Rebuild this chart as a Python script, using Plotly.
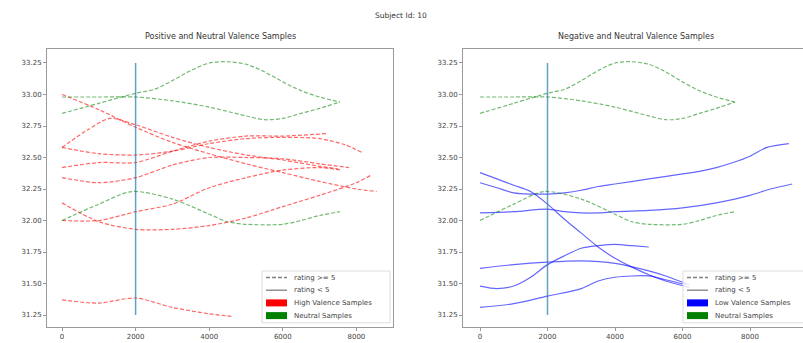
import plotly.graph_objects as go

# ---- data -----------------------------------------------------------------
suptitle = "Subject Id: 10"
left_title = "Positive and Neutral Valence Samples"
right_title = "Negative and Neutral Valence Samples"

stim_onset = 2000
onset_span = [31.25, 33.25]

y_ticks = [31.25, 31.50, 31.75, 32.00, 32.25, 32.50, 32.75, 33.00, 33.25]
x_ticks = [0, 2000, 4000, 6000, 8000]

legend_left = ["rating >= 5", "rating < 5", "High Valence Samples", "Neutral Samples"]
legend_right = ["rating >= 5", "rating < 5", "Low Valence Samples", "Neutral Samples"]

# neutral samples (shared by both panels), rating >= 5
neutral_a_t = [0, 1000, 2000, 2500, 3000, 3500, 4000, 4500, 5000, 5500, 6000, 6500, 7000, 7550]
neutral_a_v = [32.85, 32.93, 33.01, 33.04, 33.11, 33.19, 33.25, 33.26, 33.24, 33.18, 33.10, 33.03, 32.98, 32.94]
neutral_b_t = [0, 1000, 2000, 3000, 4000, 5000, 5500, 6000, 6500, 7000, 7550]
neutral_b_v = [32.98, 32.98, 32.98, 32.95, 32.90, 32.83, 32.80, 32.81, 32.85, 32.89, 32.94]
neutral_c_t = [0, 1000, 1900, 3000, 4000, 4500, 5000, 6000, 6500, 7000, 7550]
neutral_c_v = [32.00, 32.13, 32.23, 32.17, 32.05, 31.99, 31.97, 31.97, 32.00, 32.04, 32.07]

# high valence samples, rating >= 5
high_1_t = [0, 1000, 2000, 3000, 4000, 5000, 6000, 7000, 8000, 8550]
high_1_v = [33.00, 32.88, 32.74, 32.62, 32.53, 32.45, 32.38, 32.31, 32.25, 32.23]
high_2_t = [0, 700, 1300, 2000, 3000, 4000, 5000, 6000, 7000, 7500]
high_2_v = [32.58, 32.72, 32.81, 32.76, 32.66, 32.58, 32.52, 32.48, 32.43, 32.41]
high_3_t = [0, 1000, 2000, 3000, 4000, 5000, 6000, 7000, 7700, 8150]
high_3_v = [32.58, 32.53, 32.52, 32.55, 32.61, 32.65, 32.66, 32.65, 32.60, 32.54]
high_4_t = [0, 1000, 2000, 3000, 4000, 5000, 6000, 7200]
high_4_v = [32.42, 32.46, 32.46, 32.55, 32.63, 32.67, 32.67, 32.69]
high_5_t = [0, 1000, 2000, 3000, 4000, 5000, 6000, 7000, 7800]
high_5_v = [32.34, 32.30, 32.34, 32.44, 32.50, 32.50, 32.49, 32.45, 32.42]
high_6_t = [0, 1000, 2000, 3000, 4000, 5000, 6000, 7000, 8000, 8400]
high_6_v = [32.14, 31.99, 31.93, 31.93, 31.96, 32.02, 32.11, 32.20, 32.30, 32.36]
high_7_t = [0, 1000, 2000, 3000, 4000, 5000, 6000, 7000, 7600]
high_7_v = [32.00, 32.00, 32.07, 32.13, 32.26, 32.34, 32.40, 32.42, 32.40]
high_8_t = [0, 1000, 2000, 3000, 4000, 4600]
high_8_v = [31.37, 31.345, 31.385, 31.31, 31.26, 31.24]

# low valence samples, rating < 5
low_1_t = [0, 500, 1000, 1500, 2000, 2500, 3000, 3500, 4000, 4500, 5000, 5500, 6200]
low_1_v = [32.38, 32.33, 32.28, 32.23, 32.13, 32.01, 31.90, 31.79, 31.70, 31.63, 31.57, 31.52, 31.47]
low_2_t = [0, 500, 1000, 1500, 2000, 2500, 3000, 3500, 4000, 5000, 6000, 6500, 7000, 7500, 8000, 8500, 9150]
low_2_v = [32.30, 32.26, 32.22, 32.21, 32.21, 32.22, 32.24, 32.27, 32.29, 32.33, 32.37, 32.39, 32.42, 32.46, 32.51, 32.58, 32.61]
low_3_t = [0, 1000, 2000, 2500, 3000, 3500, 4000, 5000, 6000, 7000, 8000, 8600, 9250]
low_3_v = [32.06, 32.07, 32.09, 32.07, 32.06, 32.06, 32.07, 32.08, 32.10, 32.14, 32.20, 32.25, 32.29]
low_4_t = [0, 1000, 2000, 3000, 4000, 5000, 5500, 6200]
low_4_v = [31.62, 31.65, 31.67, 31.68, 31.66, 31.60, 31.56, 31.49]
low_5_t = [0, 500, 1000, 1500, 2000, 2500, 3000, 3500, 4000, 4500, 5000]
low_5_v = [31.48, 31.46, 31.48, 31.55, 31.65, 31.72, 31.78, 31.80, 31.81, 31.80, 31.79]
low_6_t = [0, 1000, 2000, 3000, 3500, 4000, 5000, 5500, 6100]
low_6_v = [31.31, 31.34, 31.40, 31.46, 31.52, 31.55, 31.56, 31.53, 31.49]

neutral_series = [(neutral_a_t, neutral_a_v), (neutral_b_t, neutral_b_v), (neutral_c_t, neutral_c_v)]
high_series = [(high_1_t, high_1_v), (high_2_t, high_2_v), (high_3_t, high_3_v), (high_4_t, high_4_v),
               (high_5_t, high_5_v), (high_6_t, high_6_v), (high_7_t, high_7_v), (high_8_t, high_8_v)]
low_series = [(low_1_t, low_1_v), (low_2_t, low_2_v), (low_3_t, low_3_v),
              (low_4_t, low_4_v), (low_5_t, low_5_v), (low_6_t, low_6_v)]

# ---- styling --------------------------------------------------------------
W, H = 803, 343
FONT = "DejaVu Sans"
RED = "rgba(255,0,0,0.6)"
GREEN = "rgba(0,128,0,0.55)"
BLUE = "rgba(0,0,255,0.6)"
ONSET = "rgba(31,119,180,0.7)"
DASH = "4px,2px"
TEXT = "#444"

fig = go.Figure()


def add_line(t, v, color, dash, xa, ya):
    fig.add_trace(go.Scatter(x=t, y=v, mode="lines", xaxis=xa, yaxis=ya, showlegend=False,
                             line=dict(color=color, width=1.2, dash=dash, shape="spline", smoothing=0.8),
                             hoverinfo="skip"))


for t, v in high_series:
    add_line(t, v, RED, DASH, "x", "y")
for t, v in neutral_series:
    add_line(t, v, GREEN, DASH, "x", "y")
for t, v in low_series:
    add_line(t, v, BLUE, "solid", "x2", "y2")
for t, v in neutral_series:
    add_line(t, v, GREEN, DASH, "x2", "y2")

# stimulus onset marker
for xa, ya in (("x", "y"), ("x2", "y2")):
    fig.add_trace(go.Scatter(x=[stim_onset, stim_onset], y=onset_span, mode="lines", xaxis=xa, yaxis=ya,
                             showlegend=False, line=dict(color=ONSET, width=1.5), hoverinfo="skip"))


def px_x(p):
    return p / W


def px_y(p):
    return 1 - p / H


shapes = []
annotations = []


def draw_legend(left, right, top, labels, patch_colors):
    """Legend box with two line handles and two colour patches."""
    row_h = 12.7
    shapes.append(dict(type="rect", xref="paper", yref="paper",
                       x0=px_x(left), x1=px_x(right), y0=px_y(top + 4 * row_h + 1), y1=px_y(top),
                       line=dict(color="#dcdcdc", width=1), fillcolor="rgba(255,255,255,0.8)", layer="above"))
    styles = [("line", DASH), ("line", "solid"), ("patch", patch_colors[0]), ("patch", patch_colors[1])]
    for i, (label, (kind, sty)) in enumerate(zip(labels, styles)):
        cy = top + 6.5 + i * row_h
        hx0, hx1 = left + 4, left + 25
        if kind == "line":
            shapes.append(dict(type="line", xref="paper", yref="paper",
                               x0=px_x(hx0), x1=px_x(hx1), y0=px_y(cy), y1=px_y(cy),
                               line=dict(color="gray", width=1.3, dash=sty), layer="above"))
        else:
            shapes.append(dict(type="rect", xref="paper", yref="paper",
                               x0=px_x(hx0), x1=px_x(hx1), y0=px_y(cy + 3.5), y1=px_y(cy - 3.5),
                               line=dict(width=0), fillcolor=sty, layer="above"))
        annotations.append(dict(text=label, x=px_x(left + 30), y=px_y(cy), xref="paper", yref="paper",
                                xanchor="left", yanchor="middle", showarrow=False,
                                font=dict(family=FONT, size=7, color=TEXT)))


draw_legend(262, 390, 271, legend_left, ["#ff0000", "#008000"])
draw_legend(683, 812, 271, legend_right, ["#0000ff", "#008000"])

for text, cx, cy, size in ((suptitle, 401, 15, 7.5), (left_title, 220, 37, 8), (right_title, 636, 37, 8)):
    annotations.append(dict(text=text, x=px_x(cx), y=px_y(cy), xref="paper", yref="paper",
                            xanchor="center", yanchor="middle", showarrow=False,
                            font=dict(family=FONT, size=size, color="#333")))

axis_common = dict(showgrid=False, zeroline=False, showline=True, linecolor="#9a9a9a", linewidth=1,
                   ticks="outside", ticklen=3, tickcolor="#9a9a9a",
                   tickfont=dict(family=FONT, size=7, color=TEXT), automargin=False)

y_dom = [px_y(327), px_y(49)]
fig.update_layout(
    width=W, height=H, margin=dict(l=0, r=0, t=0, b=0),
    paper_bgcolor="white", plot_bgcolor="white", showlegend=False,
    font=dict(family=FONT, color="#333"),
    xaxis=dict(domain=[px_x(47), px_x(393)], range=[-408, 8995], tickvals=x_ticks, mirror=True,
               anchor="y", **axis_common),
    yaxis=dict(domain=y_dom, range=[31.155, 33.361], tickvals=y_ticks, tickformat=".2f", mirror=True,
               anchor="x", **axis_common),
    xaxis2=dict(domain=[px_x(463), 1.0], range=[-504, 9570], tickvals=x_ticks, mirror=True,
                anchor="y2", **axis_common),
    yaxis2=dict(domain=y_dom, range=[31.155, 33.361], tickvals=y_ticks, tickformat=".2f", mirror=False,
                anchor="x2", **axis_common),
    shapes=shapes,
    annotations=annotations,
)

fig.write_html("out.html")
